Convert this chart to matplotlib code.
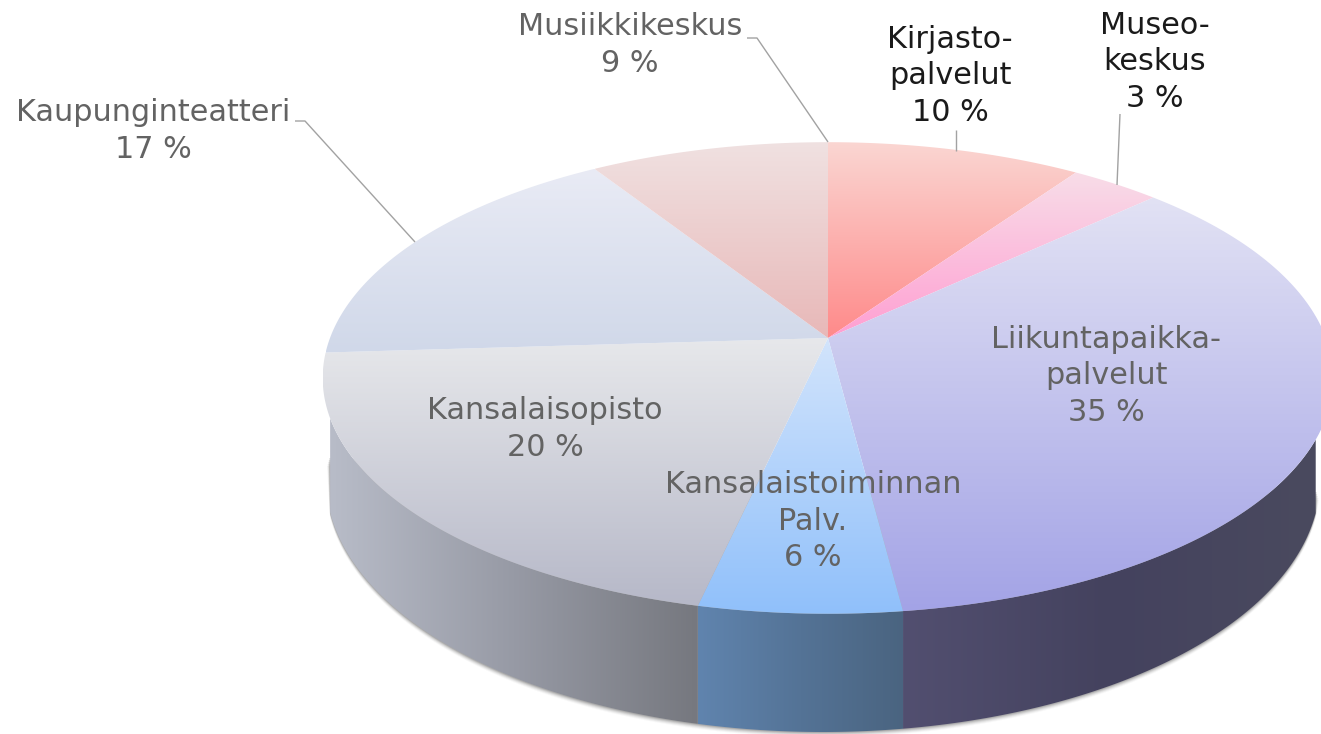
import numpy as np
import matplotlib
matplotlib.use("Agg")
import matplotlib.pyplot as plt
from matplotlib.patches import Polygon
from matplotlib.colors import to_rgb

# Slices clockwise from 12 o'clock
names = ["Kirjasto-\npalvelut", "Museo-\nkeskus", "Liikuntapaikka-\npalvelut",
         "Kansalaistoiminnan\nPalv.", "Kansalaisopisto", "Kaupunginteatteri", "Musiikkikeskus"]
shares = [9.6, 3.4, 35.0, 5.5, 20.5, 17.0, 9.0]
shown_pct = [10, 3, 35, 6, 20, 17, 9]

top_colors = [("#fad6d2", "#ff8a8a"), ("#f8dde8", "#ff9fd2"), ("#e2e2f4", "#a3a3e6"),
              ("#d2e4fc", "#90c0fa"), ("#e7e8eb", "#b6b8c8"), ("#e9ebf5", "#d0d8e9"),
              ("#f0e1e1", "#e8b8b8")]
wall_colors = [None, None, ("#524f70", "#44425e", "#4a4a5f"),
               ("#6084ae", "#547396", "#4a6480"),
               ("#b8bcc8", "#979aa5", "#76787f"), None, None]
label_xy = [(950, 76), (1155, 62), (1106, 376), (813, 521), (545, 429), (153, 131), (630, 45)]
label_colors = ["#1a1a1a", "#1a1a1a", "#636363", "#636363", "#636363", "#636363", "#636363"]
leaders = [[(956, 130), (956, 151)], [(1120, 114), (1117, 185)], None, None, None,
           [(295, 121), (305, 121), (415, 242)], [(747, 38), (757, 38), (828, 142)]]

W, H = 1321, 734
WALL_X0, WALL_X1 = 330.0, 1316.0
fig = plt.figure(figsize=(W / 100, H / 100), dpi=100)
ax = fig.add_axes([0, 0, 1, 1])
ax.set_axis_off()


def project(theta, cx=828.0, cy=338.0, rx=498.0, ry=229.0, k=0.1695):
    x_u, y_u = np.sin(theta), np.cos(theta)
    d = 1 + k * y_u
    return cx + rx * x_u / d, cy - ry * y_u / d


def base_y(x, cx=823.0, cy=480.0, rx=497.0, ry=252.0):
    return cy + ry * np.sqrt(np.clip(1 - ((x - cx) / rx) ** 2, 0, 1))


def gradient(poly, stops, horizontal=False, zorder=2):
    xs, ys = poly[:, 0], poly[:, 1]
    x0, x1, y0, y1 = xs.min(), xs.max(), ys.min(), ys.max()
    cols = np.array([to_rgb(c) for c in stops])
    t = np.linspace(0, 1, 256)
    pos = np.linspace(0, 1, len(stops))
    rgb = np.stack([np.interp(t, pos, cols[:, i]) for i in range(3)], axis=-1)
    img = rgb[None, :, :] if horizontal else rgb[:, None, :]
    patch = Polygon(poly, closed=True, transform=ax.transData, fc="none", ec="none")
    im = ax.imshow(img, extent=(x0, x1, y1, y0), origin="upper", aspect="auto",
                   interpolation="bilinear", zorder=zorder)
    ax.add_patch(patch)
    im.set_clip_path(patch)
    return im


ax.set_xlim(0, W)
ax.set_ylim(H, 0)

edges = np.radians(np.cumsum([0] + shares) * 3.6)

# soft shadow below the wall
sx = np.linspace(WALL_X0, WALL_X1, 500)
sy = base_y(sx)
for off, a in ((5, 0.04), (4, 0.07), (3, 0.10), (2, 0.14), (1, 0.20)):
    px = np.r_[WALL_X0 - off * 0.6, sx, WALL_X1 + off * 0.6]
    py = np.r_[456 + off * 2, sy + off, 490 + off * 2]
    ax.fill(px, py, color="#4a4a4a", alpha=a, lw=0, zorder=1)

# walls
for i, stops in enumerate(wall_colors):
    if stops is None:
        continue
    tt = np.linspace(edges[i], edges[i + 1], 400)
    tx, ty = project(tt)
    front = (tt > np.radians(90)) & (tt < np.radians(270)) & (tx >= WALL_X0) & (tx <= WALL_X1)
    tx, ty = tx[front], ty[front]
    poly = np.c_[np.r_[tx, tx[::-1]], np.r_[ty, base_y(tx)[::-1]]]
    gradient(poly, stops, horizontal=True, zorder=2)

# top faces
apex = (828.0, 338.0)
for i, stops in enumerate(top_colors):
    tt = np.linspace(edges[i], edges[i + 1], 200)
    tx, ty = project(tt)
    poly = np.c_[np.r_[apex[0], tx], np.r_[apex[1], ty]]
    gradient(poly, stops, zorder=3)

# leader lines
for pts in leaders:
    if pts is not None:
        p = np.array(pts)
        ax.plot(p[:, 0], p[:, 1], color="#a2a2a2", lw=1.0, zorder=4, solid_capstyle="butt")

# labels
for name, pct, (x, y), col in zip(names, shown_pct, label_xy, label_colors):
    ax.text(x, y, f"{name}\n{pct} %", ha="center", va="center", ma="center",
            fontsize=21.8, color=col, family="DejaVu Sans", linespacing=1.33, zorder=5)

ax.set_xlim(0, W)
ax.set_ylim(H, 0)
fig.savefig("out.png", dpi=100, facecolor="white")
